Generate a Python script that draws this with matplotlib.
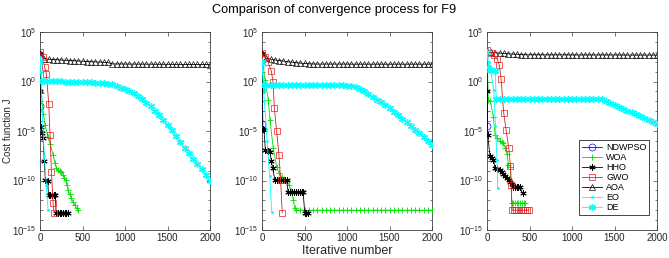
import matplotlib
matplotlib.use("Agg")
import matplotlib.pyplot as plt
import numpy as np
from matplotlib.ticker import FixedLocator, FuncFormatter, NullFormatter

plt.rcParams['font.family'] = ['Liberation Sans', 'DejaVu Sans']

# ---------------- data (log10 of cost) ----------------
it50 = list(range(0, 2001, 50))

# Panel 1
p1_ndw_it = [0, 1]
p1_ndw_lg = [2.8, -2.5]
p1_woa_it = [0, 16, 40, 60, 95, 120, 154, 175, 193, 215, 235, 252, 270, 285, 300, 315, 331, 350, 370, 390, 410, 430, 450]
p1_woa_lg = [2.5, -1.2, -3.3, -4.4, -5.57, -6.3, -7.4, -8.2, -8.77, -8.95, -9.05, -9.1, -9.4, -9.7, -9.95, -10.45, -10.96, -11.4, -11.8, -12.2, -12.5, -12.8, -12.98]
p1_hho_it = [0, 4, 8, 20, 36, 50, 63, 90, 100, 120, 140, 160, 180, 190, 210, 230, 250, 270, 290, 310, 330]
p1_hho_lg = [2.8, -1.0, -4.56, -5.2, -5.74, -8.0, -9.95, -10.0, -11.45, -11.45, -11.45, -11.45, -11.45, -13.3, -13.3, -13.3, -13.3, -13.3, -13.3, -13.3, -13.3]
p1_gwo_it = [0, 30, 55, 75, 103, 118, 134, 154, 166]
p1_gwo_lg = [3.0, 2.5, 1.43, 0.76, -2.27, -5.4, -9.1, -12.3, -13.25]
p1_aoa_lg = [2.9, 2.3, 2.25, 2.22, 2.2, 2.17, 2.15, 2.12, 2.1, 2.07, 2.05, 2.02, 2.0, 1.98, 1.96, 1.94, 1.92,
             1.78, 1.77, 1.77, 1.76, 1.76, 1.76, 1.75, 1.75, 1.75, 1.75, 1.74, 1.74, 1.74, 1.74, 1.73, 1.73,
             1.73, 1.73, 1.72, 1.72, 1.72, 1.72, 1.72, 1.71]
p1_eo_it = [0, 10, 25, 50, 75, 95]
p1_eo_lg = [2.5, 1.0, -3.0, -7.5, -10.5, -13.0]
p1_de_it = [0, 20] + it50[1:]
p1_de_lg = [2.0, 0.05,
            0.02, 0.02, 0.02, 0.01, 0.01, 0.0, 0.0, 0.0, -0.02, -0.08, -0.1, -0.1, -0.12, -0.15, -0.18, -0.22,
            -0.3, -0.5, -0.67, -0.8, -0.97, -1.15, -1.45, -1.8, -2.15, -2.5, -2.95, -3.4, -3.9, -4.36, -4.9,
            -5.5, -6.1, -6.7, -7.25, -7.8, -8.3, -8.8, -9.4, -10.1]

# Panel 2
p2_ndw_it = [0, 1]
p2_ndw_lg = [2.8, -4.3]
p2_woa_it = [0, 35, 74, 94, 132, 172, 200, 230, 260, 289, 320, 347, 370, 386] + it50[8:]
p2_woa_lg = [2.6, 0.15, -1.87, -3.9, -6.75, -8.6, -9.2, -9.6, -9.8, -9.95, -10.5, -11.1, -12.0, -12.8,
             -13.0, -13.0, -13.0, -13.0, -13.0, -13.0, -13.0, -13.0, -13.0, -13.0, -13.0, -13.0, -13.0,
             -13.0, -13.0, -13.0, -13.0, -13.0, -13.0, -13.0, -13.0, -13.0, -13.0, -13.0, -13.0, -13.0,
             -13.0, -13.0, -13.0, -13.0, -13.0, -13.0, -13.0]
p2_hho_it = [0, 5, 10, 23, 40, 55, 75, 94, 110, 125, 152, 175, 200, 225, 250, 270, 289,
             308, 330, 350, 375, 400, 425, 450, 470, 484, 503, 520, 542]
p2_hho_lg = [2.8, -1.0, -4.8, -4.9, -6.9, -6.9, -7.0, -7.1, -8.0, -8.77,
             -9.95, -9.95, -9.95, -9.95, -9.95, -9.95, -9.95,
             -11.2, -11.2, -11.2, -11.2, -11.2, -11.2, -11.2, -11.2, -11.2, -13.25, -13.25, -13.25]
p2_gwo_it = [0, 30, 70, 110, 130, 145, 172, 199, 219, 238]
p2_gwo_lg = [2.9, 2.5, 1.97, 1.03, -0.04, -2.65, -5.0, -7.4, -9.95, -13.25]
p2_aoa_lg = [2.9, 2.35, 2.25, 2.18, 2.12, 2.06, 2.0, 1.95, 1.9, 1.86, 1.82, 1.79, 1.77,
             1.76, 1.76, 1.76, 1.76, 1.76, 1.76, 1.76, 1.76, 1.75, 1.75, 1.75, 1.75, 1.75, 1.75,
             1.75, 1.75, 1.75, 1.75, 1.75, 1.75, 1.75, 1.75, 1.75, 1.75, 1.75, 1.75, 1.75, 1.75]
p2_eo_it = [0, 20, 60, 90, 115]
p2_eo_lg = [2.2, -1.0, -6.0, -9.5, -13.2]
p2_de_it = [0, 20] + it50[1:]
p2_de_lg = [2.0, -0.38,
            -0.38, -0.38, -0.38, -0.38, -0.39, -0.39, -0.39, -0.39, -0.39, -0.39, -0.39, -0.39, -0.39,
            -0.39, -0.39, -0.39, -0.39, -0.39, -0.4, -0.42,
            -0.5, -0.6, -0.73, -1.0, -1.26, -1.53, -1.82, -2.1, -2.4, -2.68, -3.05, -3.4, -3.78, -4.13,
            -4.5, -4.85, -5.2, -5.63, -6.05, -6.4]

# Panel 3
p3_ndw_it = [0, 1]
p3_ndw_lg = [3.0, -4.5]
p3_woa_it = [0, 16, 40, 75, 95, 118, 154, 175, 193, 213, 236, 252, 276, 292, 310, 330, 350, 370, 390, 410, 430, 450]
p3_woa_lg = [3.0, -1.83, -2.0, -3.6, -5.4, -5.7, -6.0, -6.1, -6.2, -6.7, -7.3, -8.4, -8.6, -12.27,
             -12.27, -12.27, -12.27, -12.27, -12.27, -12.27, -12.27, -12.27]
p3_hho_it = [0, 4, 8, 35, 55, 75, 95, 120, 154, 175, 193, 215, 233, 255, 272, 290, 310, 330, 350, 370, 390, 418]
p3_hho_lg = [3.0, -1.0, -5.37, -7.56, -7.7, -7.9, -8.74, -8.8, -8.9, -9.1, -9.35, -9.5, -9.75, -9.95,
             -10.15, -10.4, -10.7, -10.7, -10.7, -10.7, -10.7, -11.3]
p3_gwo_it = [0, 50, 80, 118, 146, 165, 197, 224, 256, 276, 285, 295, 320, 345, 370, 395, 420, 445, 470, 495]
p3_gwo_lg = [3.2, 2.9, 2.65, 2.3, 1.64, 0.3, -3.2, -4.9, -6.7, -8.5, -10.5, -13.0, -13.0, -13.0, -13.0,
             -13.0, -13.0, -13.0, -13.0, -13.0]
p3_aoa_lg = [3.2, 2.95, 2.9, 2.86, 2.83, 2.8, 2.77, 2.75, 2.72, 2.7,
             2.7, 2.7, 2.7, 2.69, 2.69, 2.69, 2.69, 2.69, 2.69, 2.69, 2.68, 2.68, 2.68, 2.68, 2.68, 2.68,
             2.68, 2.68, 2.68, 2.68, 2.68, 2.68, 2.67, 2.67, 2.67, 2.67, 2.67, 2.67, 2.67, 2.67, 2.67]
p3_eo_it = [0, 20, 40, 80, 100, 118, 126]
p3_eo_lg = [2.5, 2.0, 1.3, -0.9, -4.5, -7.9, -10.8]
p3_de_it = [0, 15, 35, 60, 95, 110] + it50[3:]
p3_de_lg = [3.0, 1.5, 1.2, 1.2, 1.1, -1.77,
            -1.77, -1.77, -1.77, -1.77, -1.77, -1.77, -1.77, -1.77, -1.77, -1.77, -1.77, -1.77, -1.77,
            -1.77, -1.77, -1.77, -1.77, -1.77, -1.77, -1.77, -1.77, -1.77, -1.77, -1.77, -1.77,
            -2.0, -2.18, -2.37, -2.56, -2.75, -2.94, -3.12, -3.31, -3.5, -3.69, -3.88, -4.06, -4.25]

labels = ['NDWPSO', 'WOA', 'HHO', 'GWO', 'AOA', 'EO', 'DE']
colors = ['#0000ff', '#00e000', '#000000', '#e02020', '#000000', '#00ffff', '#00ffff']
asterisk = (6, 2, 0)
markers = ['o', '+', asterisk, 's', '^', '.', asterisk]
msizes = [5, 5, 4.5, 4.5, 5, 3, 5]
mews = [0.5, 0.6, 0.7, 0.5, 0.45, 0.5, 1.0]
hollow = [True, False, False, True, True, False, False]

panels = [
    [(p1_ndw_it, p1_ndw_lg), (p1_woa_it, p1_woa_lg), (p1_hho_it, p1_hho_lg), (p1_gwo_it, p1_gwo_lg),
     (it50, p1_aoa_lg), (p1_eo_it, p1_eo_lg), (p1_de_it, p1_de_lg)],
    [(p2_ndw_it, p2_ndw_lg), (p2_woa_it, p2_woa_lg), (p2_hho_it, p2_hho_lg), (p2_gwo_it, p2_gwo_lg),
     (it50, p2_aoa_lg), (p2_eo_it, p2_eo_lg), (p2_de_it, p2_de_lg)],
    [(p3_ndw_it, p3_ndw_lg), (p3_woa_it, p3_woa_lg), (p3_hho_it, p3_hho_lg), (p3_gwo_it, p3_gwo_lg),
     (it50, p3_aoa_lg), (p3_eo_it, p3_eo_lg), (p3_de_it, p3_de_lg)],
]

fig = plt.figure(figsize=(6.69, 2.58), dpi=100)
lefts = [40 / 669, 262 / 669, 487 / 669]
W = 170 / 669
B = 28 / 258
H = 198 / 258
edge = '#404040'

axes = []
for k, series in enumerate(panels):
    ax = fig.add_axes([lefts[k], B, W, H])
    axes.append(ax)
    for j, (its, lg) in enumerate(series):
        vals = np.power(10.0, np.array(lg, dtype=float))
        mev = [1] if j == 0 else None
        ax.plot(its, vals, color=colors[j], marker=markers[j], ms=msizes[j], lw=0.6,
                mfc='none' if hollow[j] else colors[j], mec=colors[j], mew=mews[j],
                markevery=mev, label=labels[j], zorder=3 if j != 4 else 2)
    ax.set_yscale('log')
    ax.set_xlim(0, 2000)
    ax.set_ylim(1e-15, 1e5)
    ax.set_xticks([0, 500, 1000, 1500, 2000])
    ax.yaxis.set_major_locator(FixedLocator([1e-15, 1e-10, 1e-5, 1e0, 1e5]))
    ax.yaxis.set_minor_locator(FixedLocator([10.0 ** e for e in range(-15, 6)]))
    ax.yaxis.set_minor_formatter(NullFormatter())
    ax.yaxis.set_major_formatter(FuncFormatter(lambda v, p: r'$\mathregular{10^{%d}}$' % int(round(np.log10(v)))))
    ax.tick_params(which='both', direction='in', top=True, right=True, colors=edge,
                   labelcolor='#262626', labelsize=7, width=0.5, pad=2.5)
    ax.tick_params(which='major', length=3)
    ax.tick_params(which='minor', length=1.8)
    for s in ax.spines.values():
        s.set_color(edge)
        s.set_linewidth(0.6)

fig.text(8.5 / 669, (258 - 131) / 258, 'Cost function J', rotation=90, fontsize=7,
         color='#262626', ha='center', va='center')
axes[1].set_xlabel('Iterative number', fontsize=9, color='#262626', labelpad=1)

leg = axes[2].legend(loc='lower right', bbox_to_anchor=(0.954, 0.076), fontsize=6.5,
                     frameon=True, fancybox=False, framealpha=1, edgecolor='#262626',
                     labelspacing=0.12, handlelength=2.3, handletextpad=0.4, borderpad=0.3,
                     borderaxespad=0)
leg.get_frame().set_linewidth(0.6)

fig.suptitle('Comparison of convergence process for F9', fontsize=9.2, y=1 - 10 / 258, va='center',
             color='#000000')

fig.savefig('out.png', dpi=100)
